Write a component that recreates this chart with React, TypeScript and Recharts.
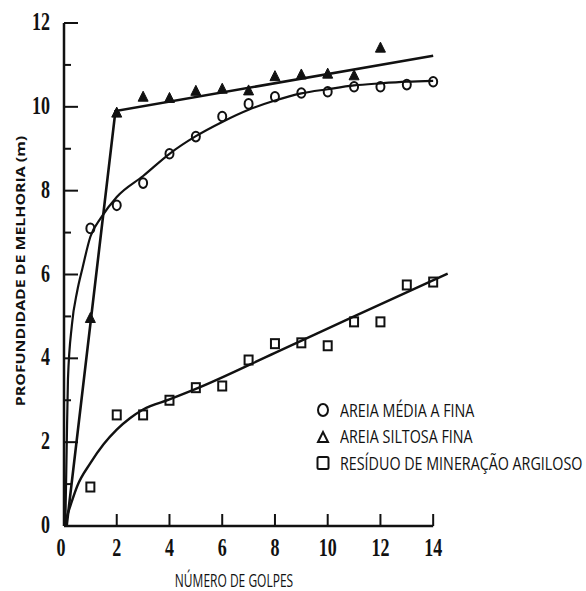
import React from "react";
import {
  ComposedChart,
  Line,
  Scatter,
  XAxis,
  YAxis,
  ReferenceLine,
} from "recharts";

// measured points, x = número de golpes
const golpes = [1, 2, 3, 4, 5, 6, 7, 8, 9, 10, 11, 12, 13, 14];
const areiaMediaY = [7.1, 7.65, 8.18, 8.88, 9.29, 9.77, 10.07, 10.24, 10.33, 10.36, 10.48, 10.48, 10.53, 10.6];
const siltosaX = [1, 2, 3, 4, 5, 6, 7, 8, 9, 10, 11, 12];
const siltosaY = [4.95, 9.85, 10.23, 10.2, 10.37, 10.42, 10.38, 10.72, 10.76, 10.78, 10.74, 11.4];
const residuoY = [0.93, 2.65, 2.65, 3.0, 3.3, 3.34, 3.96, 4.35, 4.37, 4.3, 4.87, 4.87, 5.75, 5.82];

// fitted curves
const curvaMediaX = [0.05, 0.1, 0.15, 0.3, 0.5, 0.7, 1, 1.4, 2, 3, 4, 5, 6, 7, 8, 9, 10, 11, 12, 13, 14];
const curvaMediaY = [0, 1.8, 3.5, 4.8, 5.6, 6.15, 6.9, 7.35, 7.85, 8.35, 8.88, 9.3, 9.64, 9.93, 10.15, 10.32, 10.42, 10.51, 10.56, 10.6, 10.62];
const curvaSiltosaX = [0.1, 1.95, 14];
const curvaSiltosaY = [0, 9.9, 11.22];
const curvaResiduoX = [0, 0.25, 0.5, 1, 1.5, 2, 2.5, 3, 4, 5, 8, 11, 14.55];
const curvaResiduoY = [0, 0.5, 0.95, 1.5, 1.95, 2.3, 2.57, 2.78, 3.02, 3.27, 4.13, 5.0, 6.02];

const yTicks = [0, 1, 2, 3, 4, 5, 6, 7, 8, 9, 10, 11, 12];
const xTicks = [0, 2, 4, 6, 8, 10, 12, 14];

const legendItems = [
  { name: "AREIA MÉDIA A FINA", symbol: "circle" },
  { name: "AREIA SILTOSA FINA", symbol: "triangle" },
  { name: "RESÍDUO DE MINERAÇÃO ARGILOSO", symbol: "square" },
];

const zip = (xs: number[], ys: number[]) => xs.map((x, i) => ({ x, y: ys[i] }));

const pontosMedia = zip(golpes, areiaMediaY);
const pontosSiltosa = zip(siltosaX, siltosaY);
const pontosResiduo = zip(golpes, residuoY);
const linhaMedia = zip(curvaMediaX, curvaMediaY);
const linhaSiltosa = zip(curvaSiltosaX, curvaSiltosaY);
const linhaResiduo = zip(curvaResiduoX, curvaResiduoY);

const INK = "#111";
const SERIF = "'Liberation Serif', 'Times New Roman', serif";
const SANS = "'Open Sans', 'Noto Sans', sans-serif";

const CircleMark = (p: any) => (
  <ellipse cx={p.cx} cy={p.cy} rx={4} ry={4.8} fill="none" stroke={INK} strokeWidth={2} />
);
const TriangleMark = (p: any) => (
  <polygon
    points={`${p.cx - 5},${p.cy + 4} ${p.cx + 5},${p.cy + 4} ${p.cx},${p.cy - 6}`}
    fill={INK}
    stroke={INK}
    strokeWidth={1}
  />
);
const SquareMark = (p: any) => (
  <rect x={p.cx - 4} y={p.cy - 4.5} width={8} height={9} fill="none" stroke={INK} strokeWidth={2} />
);

function YTick({ x, y, payload }: any) {
  const v = payload.value;
  const major = v % 2 === 0;
  return (
    <g>
      {v > 0 && <line x1={x} x2={x + (major ? 14 : 7)} y1={y} y2={y} stroke={INK} strokeWidth={2} />}
      {major && (
        <text
          transform={`translate(${x - 14},${y + 7}) scale(1,1.35)`}
          textAnchor="end"
          fontFamily={SERIF}
          fontWeight="bold"
          fontSize={18}
          fill={INK}
        >
          {v}
        </text>
      )}
    </g>
  );
}

function XTick({ x, y, payload }: any) {
  const v = payload.value;
  return (
    <g>
      {v > 0 && <line x1={x} x2={x} y1={y} y2={y - 12} stroke={INK} strokeWidth={2} />}
      <text
        transform={`translate(${v === 0 ? x - 3 : x},${y + 30}) scale(1,1.35)`}
        textAnchor="middle"
        fontFamily={SERIF}
        fontWeight="bold"
        fontSize={18}
        fill={INK}
      >
        {v}
      </text>
    </g>
  );
}

function LegendSymbol({ kind }: { kind: string }) {
  return (
    <svg width={14} height={16} style={{ marginRight: 10, flex: "none" }}>
      {kind === "circle" && <ellipse cx={7} cy={8} rx={5} ry={6} fill="none" stroke={INK} strokeWidth={2} />}
      {kind === "triangle" && <polygon points="2,13 12,13 7,3" fill="none" stroke={INK} strokeWidth={2} />}
      {kind === "square" && <rect x={1.5} y={2} width={11} height={12} rx={1.5} fill="none" stroke={INK} strokeWidth={2} />}
    </svg>
  );
}

function LegendBox() {
  return (
    <div style={{ position: "absolute", left: 316, top: 397, fontFamily: SANS, color: INK }}>
      {legendItems.map((item) => (
        <div key={item.name} style={{ display: "flex", alignItems: "center", height: 26.5 }}>
          <LegendSymbol kind={item.symbol} />
          <span style={{ fontSize: 14.3, display: "inline-block", transform: "scaleY(1.22)", whiteSpace: "nowrap" }}>
            {item.name}
          </span>
        </div>
      ))}
    </div>
  );
}

export default function App() {
  return (
    <div style={{ position: "absolute", left: 0, top: 0, width: 586, height: 591, background: "#fff" }}>
      <ComposedChart width={586} height={591} margin={{ top: 23, right: 137, bottom: 35, left: 24 }}>
        <XAxis
          type="number"
          dataKey="x"
          domain={[0, 14.6]}
          ticks={xTicks}
          interval={0}
          axisLine={false}
          tickLine={false}
          tickSize={0}
          tickMargin={0}
          height={30}
          tick={<XTick />}
          label={{
            content: () => (
              <text
                transform="translate(234,587) scale(1,1.45)"
                textAnchor="middle"
                fontFamily={SANS}
                fontSize={12}
                fill={INK}
              >
                NÚMERO DE GOLPES
              </text>
            ),
          }}
        />
        <YAxis
          type="number"
          dataKey="y"
          domain={[0, 12]}
          ticks={yTicks}
          interval={0}
          axisLine={{ stroke: INK, strokeWidth: 2.5 }}
          tickLine={false}
          tickSize={0}
          tickMargin={0}
          width={40}
          tick={<YTick />}
          label={{
            content: () => (
              <text
                transform="translate(25,271) rotate(-90) scale(1.27,1)"
                textAnchor="middle"
                fontFamily={SANS}
                fontWeight="bold"
                fontSize={12.5}
                fill={INK}
              >
                PROFUNDIDADE DE MELHORIA (m)
              </text>
            ),
          }}
        />
        <ReferenceLine
          segment={[{ x: 0, y: 0 }, { x: 14, y: 0 }]}
          stroke={INK}
          strokeWidth={2.5}
        />
        <Line data={linhaMedia} dataKey="y" type="monotone" stroke={INK} strokeWidth={2.2} dot={false} isAnimationActive={false} />
        <Line data={linhaSiltosa} dataKey="y" type="linear" stroke={INK} strokeWidth={2.6} dot={false} isAnimationActive={false} />
        <Line data={linhaResiduo} dataKey="y" type="monotone" stroke={INK} strokeWidth={2.4} dot={false} isAnimationActive={false} />
        <Scatter data={pontosMedia} dataKey="y" shape={CircleMark} isAnimationActive={false} />
        <Scatter data={pontosSiltosa} dataKey="y" shape={TriangleMark} isAnimationActive={false} />
        <Scatter data={pontosResiduo} dataKey="y" shape={SquareMark} isAnimationActive={false} />
      </ComposedChart>
      <LegendBox />
    </div>
  );
}
